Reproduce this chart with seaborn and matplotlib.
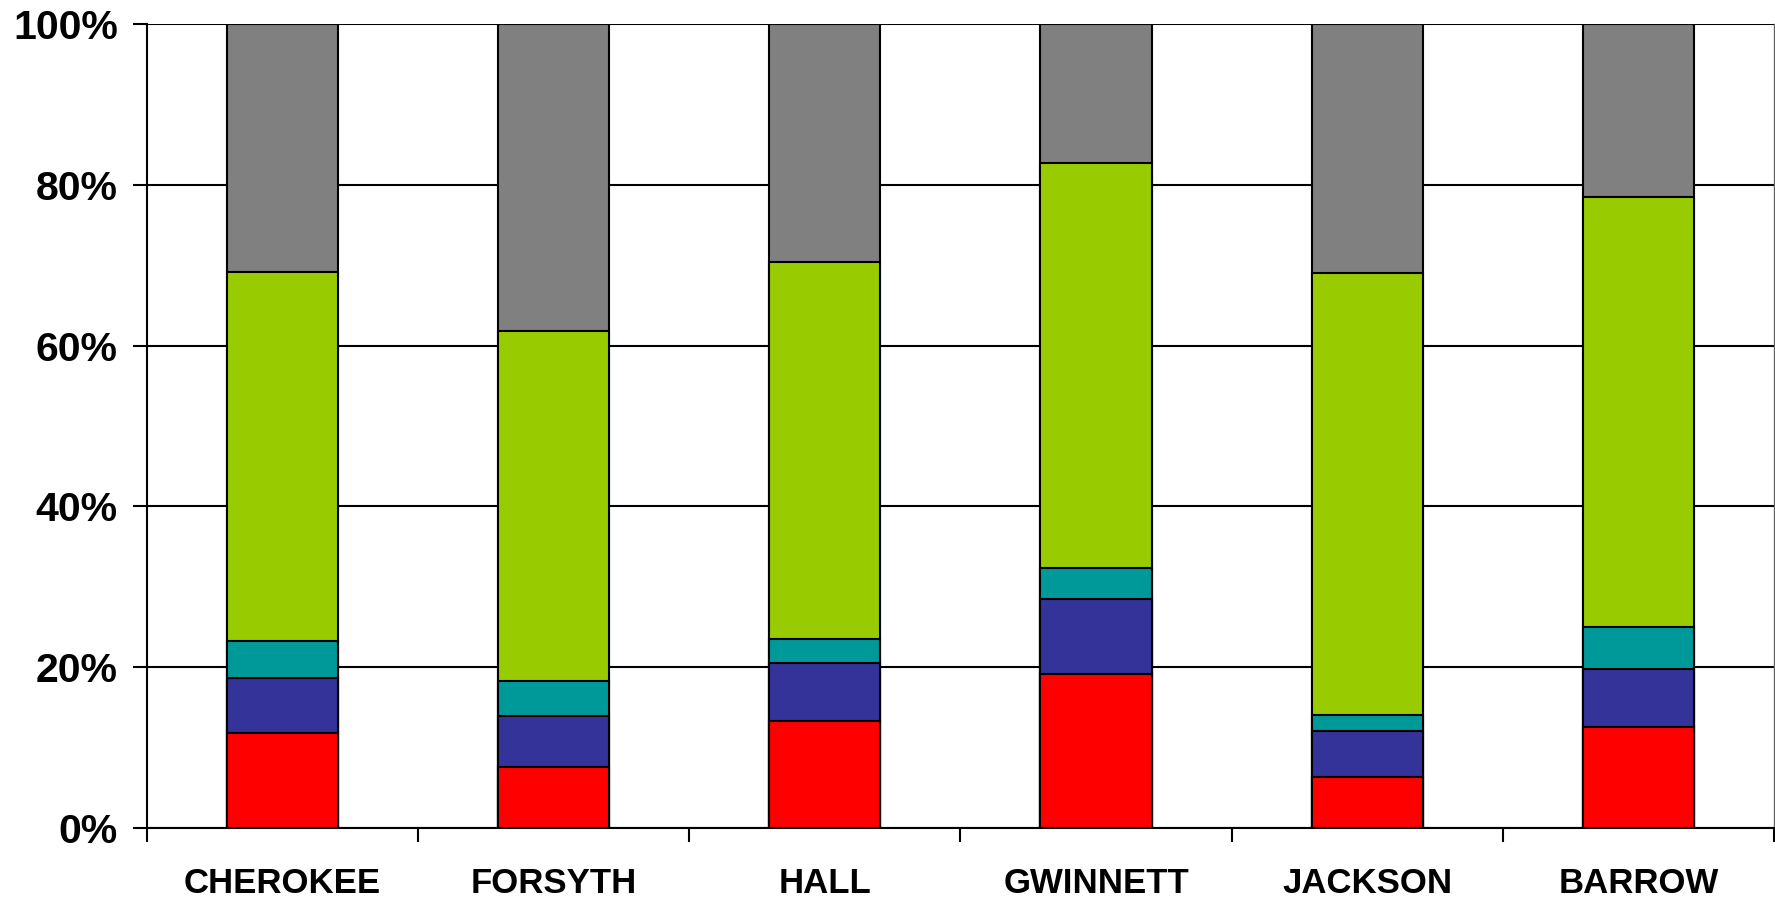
import matplotlib
matplotlib.use("Agg")
import matplotlib.pyplot as plt
import seaborn as sns
import numpy as np
import pandas as pd
from matplotlib.ticker import FixedLocator, PercentFormatter

# counties on the x axis
counties = ["CHEROKEE", "FORSYTH", "HALL", "GWINNETT", "JACKSON", "BARROW"]

# stacked shares (percent), bottom to top
red_vals = [11.8, 7.6, 13.3, 19.2, 6.3, 12.5]
blue_vals = [6.9, 6.3, 7.2, 9.3, 5.8, 7.3]
teal_vals = [4.5, 4.4, 3.0, 3.8, 1.9, 5.2]
green_vals = [46.0, 43.5, 46.9, 50.4, 55.0, 53.5]
gray_vals = [30.8, 38.2, 29.6, 17.3, 31.0, 21.5]

layers = [
    (red_vals, "#FF0000"),
    (blue_vals, "#333399"),
    (teal_vals, "#009999"),
    (green_vals, "#99CC00"),
    (gray_vals, "#808080"),
]

sns.set_style("white")
plt.rcParams["font.family"] = ["Liberation Sans", "DejaVu Sans"]
plt.rcParams["font.weight"] = "bold"
plt.rcParams["text.color"] = "black"
plt.rcParams["xtick.color"] = "black"
plt.rcParams["ytick.color"] = "black"

fig = plt.figure(figsize=(17.75, 8.99), dpi=100)
ax = fig.add_axes([0.0828, 0.079, 0.9166, 0.8943])

# cumulative tops, drawn from the highest layer down so the lower ones sit in front
tops = np.cumsum([np.array(v) for v, _ in layers], axis=0)
for i in range(len(layers) - 1, -1, -1):
    df = pd.DataFrame({"county": counties, "top": tops[i]})
    sns.barplot(data=df, x="county", y="top", color=layers[i][1], saturation=1,
                width=0.41, edgecolor="black", linewidth=1.5, ax=ax)

ax.set_xlim(-0.5, len(counties) - 0.5)
ax.set_ylim(0, 100)
ax.set_yticks([0, 20, 40, 60, 80, 100])
ax.yaxis.set_major_formatter(PercentFormatter(decimals=0))
ax.set_xlabel("")
ax.set_ylabel("")

ax.set_axisbelow(True)
ax.yaxis.grid(True, color="black", linewidth=1.5)
ax.xaxis.grid(False)

ax.spines["top"].set_visible(False)
ax.spines["left"].set_color("black")
ax.spines["left"].set_linewidth(1.5)
ax.spines["bottom"].set_color("black")
ax.spines["bottom"].set_linewidth(1.5)
ax.spines["right"].set_color("#666666")
ax.spines["right"].set_linewidth(1.0)

ax.tick_params(axis="y", which="major", direction="out", length=10, width=1.5,
               labelcolor="black", labelsize=29.5, pad=11, left=True)
ax.tick_params(axis="x", which="major", length=0, labelcolor="black",
               labelsize=25, pad=28)
ax.xaxis.set_minor_locator(FixedLocator(np.arange(-0.5, len(counties), 1.0)))
ax.tick_params(axis="x", which="minor", direction="out", length=10, width=1.5,
               bottom=True)

for lbl in ax.get_xticklabels() + ax.get_yticklabels():
    lbl.set_fontweight("bold")

fig.savefig("out.png", dpi=100, facecolor="white")
